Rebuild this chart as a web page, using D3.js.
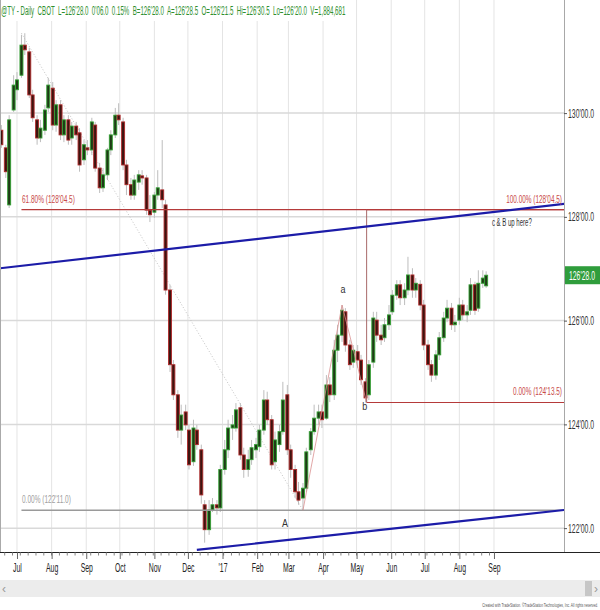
<!DOCTYPE html>
<html><head><meta charset="utf-8">
<script src="https://cdn.jsdelivr.net/npm/d3@7"></script>
<style>body{margin:0;background:#fff}svg{display:block}</style>
</head><body><svg id="c" width="600" height="610"></svg>
<script>
// ---------- DATA ----------
// [date, open, high, low, close]
const candles = [
["2016-06-17",129.67,129.77,129.33,129.39],["2016-06-21",129.33,129.39,128.75,128.87],
["2016-06-24",128.23,129.96,128.17,129.87],["2016-06-28",130.06,130.73,130.02,130.54],
["2016-07-01",130.45,130.79,130.25,130.64],["2016-07-05",130.73,131.51,130.68,131.31],
["2016-07-08",131.31,131.54,131.12,131.22],["2016-07-12",131.18,131.26,130.29,130.35],
["2016-07-15",130.35,130.45,129.83,129.91],["2016-07-19",129.87,129.96,129.39,129.52],
["2016-07-22",129.52,129.87,129.44,129.71],["2016-07-26",129.67,130.16,129.58,130.06],
["2016-07-29",130.10,130.68,130.02,130.54],["2016-08-02",130.48,130.60,129.67,129.77],
["2016-08-05",129.77,130.25,129.64,130.16],["2016-08-09",130.16,130.25,129.48,129.58],
["2016-08-12",129.58,129.96,129.44,129.87],["2016-08-16",129.87,129.96,129.39,129.48],
["2016-08-19",129.52,129.83,129.39,129.75],["2016-08-23",129.75,129.83,129.48,129.58],
["2016-08-26",129.62,129.71,128.87,129.00],["2016-08-30",129.10,129.48,129.00,129.39],
["2016-09-02",129.33,129.48,129.19,129.29],["2016-09-06",129.29,129.91,129.19,129.83],
["2016-09-09",129.77,129.83,128.87,128.94],["2016-09-13",128.94,129.04,128.46,128.56],
["2016-09-16",128.56,128.94,128.48,128.81],["2016-09-20",128.81,129.33,128.71,129.29],
["2016-09-23",129.29,129.67,129.19,129.58],["2016-09-27",129.58,130.10,129.52,129.96],
["2016-09-30",129.96,130.19,129.77,129.87],["2016-10-04",129.83,129.91,128.90,129.00],
["2016-10-07",129.00,129.10,128.42,128.62],["2016-10-11",128.62,128.75,128.33,128.42],
["2016-10-14",128.42,128.81,128.33,128.71],["2016-10-18",128.67,128.90,128.52,128.81],
["2016-10-21",128.79,128.90,128.62,128.75],["2016-10-25",128.75,128.81,128.04,128.13],
["2016-10-28",128.13,128.42,127.90,128.04],["2016-11-01",128.09,128.48,127.98,128.42],
["2016-11-04",128.42,128.90,128.33,128.56],["2016-11-08",128.52,129.48,128.17,128.33],
["2016-11-11",128.23,128.33,126.50,126.59],["2016-11-15",126.59,126.69,125.01,125.15],
["2016-11-18",125.15,125.24,124.47,124.57],["2016-11-22",124.57,124.66,123.74,123.89],
["2016-11-25",123.89,124.38,123.61,124.18],["2016-11-29",124.24,124.38,123.89,123.99],
["2016-12-02",123.89,123.99,123.13,123.22],["2016-12-06",123.28,124.09,123.20,123.93],
["2016-12-09",123.89,123.99,123.51,123.61],["2016-12-13",123.51,123.61,122.47,122.64],
["2016-12-16",122.45,122.54,121.72,121.97],["2016-12-20",121.97,122.54,121.87,122.35],
["2016-12-23",122.35,122.58,122.31,122.45],["2016-12-27",122.45,122.54,122.26,122.39],
["2016-12-30",122.39,123.22,122.31,123.13],["2017-01-03",123.13,123.70,123.03,123.51],
["2017-01-06",123.51,124.09,123.35,123.93],["2017-01-10",123.93,124.18,123.70,123.99],
["2017-01-13",123.93,124.41,123.86,124.28],["2017-01-17",124.32,124.41,123.32,123.41],
["2017-01-20",123.41,123.55,122.97,123.13],["2017-01-24",123.13,123.51,122.99,123.32],
["2017-01-27",123.32,123.70,123.22,123.55],["2017-01-31",123.51,123.74,123.35,123.61],
["2017-02-03",123.57,123.99,123.47,123.89],["2017-02-07",123.89,124.66,123.80,124.47],
["2017-02-10",124.47,124.63,123.99,124.09],["2017-02-14",124.09,124.18,123.13,123.22],
["2017-02-17",123.28,123.86,123.13,123.70],["2017-02-21",123.61,123.99,123.47,123.86],
["2017-02-24",123.86,124.82,123.80,124.47],["2017-02-28",124.57,124.76,123.41,123.51],
["2017-03-03",123.51,123.61,122.97,123.13],["2017-03-07",123.13,123.22,122.58,122.70],
["2017-03-10",122.70,122.89,122.45,122.54],["2017-03-14",122.58,122.87,122.34,122.77],
["2017-03-17",122.77,123.55,122.70,123.47],["2017-03-21",123.51,123.93,123.41,123.86],
["2017-03-24",123.86,124.38,123.80,124.12],["2017-03-28",124.12,124.38,123.99,124.24],
["2017-03-31",124.24,124.38,123.93,124.09],["2017-04-04",124.12,124.95,124.09,124.76],
["2017-04-07",124.76,124.91,124.43,124.57],["2017-04-11",124.57,125.63,124.47,125.43],
["2017-04-14",125.43,125.92,125.20,125.72],["2017-04-18",125.72,126.30,125.59,126.20],
["2017-04-21",126.17,126.24,125.40,125.53],["2017-04-25",125.53,125.63,125.05,125.15],
["2017-04-28",125.20,125.53,125.09,125.43],["2017-05-02",125.40,125.53,125.09,125.24],
["2017-05-05",125.24,125.34,124.76,124.86],["2017-05-09",124.82,124.89,124.42,124.51],
["2017-05-12",124.57,125.24,124.47,125.15],["2017-05-16",125.20,126.17,125.09,126.05],
["2017-05-19",126.01,126.17,125.59,125.72],["2017-05-23",125.72,125.92,125.53,125.63],
["2017-05-26",125.67,126.05,125.59,125.92],["2017-05-30",125.92,126.30,125.82,126.11],
["2017-06-02",126.17,126.59,126.11,126.49],["2017-06-06",126.49,126.78,126.40,126.69],
["2017-06-09",126.69,126.78,126.30,126.44],["2017-06-13",126.44,126.72,126.30,126.59],
["2017-06-16",126.59,127.23,126.49,126.88],["2017-06-20",126.88,127.01,126.44,126.59],
["2017-06-23",126.59,126.82,126.44,126.72],["2017-06-27",126.70,126.78,126.20,126.30],
["2017-06-30",126.30,126.40,125.43,125.53],["2017-07-04",125.53,125.63,125.05,125.15],
["2017-07-07",125.15,125.24,124.82,124.95],["2017-07-11",124.95,125.43,124.86,125.34],
["2017-07-14",125.34,125.78,125.24,125.67],["2017-07-18",125.67,126.17,125.59,126.05],
["2017-07-21",126.05,126.40,125.97,126.24],["2017-07-25",126.24,126.34,125.82,125.92],
["2017-07-28",125.92,126.11,125.78,125.97],["2017-08-01",126.01,126.44,125.92,126.30],
["2017-08-04",126.30,126.40,126.01,126.11],["2017-08-08",126.11,126.30,125.97,126.17],
["2017-08-11",126.20,126.82,126.11,126.69],["2017-08-15",126.69,126.75,126.11,126.20],
["2017-08-18",126.24,126.97,126.17,126.72],["2017-08-22",126.72,126.97,126.63,126.82],
["2017-08-25",126.67,126.95,126.63,126.875]
];
const yTicks = [122,124,126,128,130];
const yTickLabels = ["122'00.0","124'00.0","126'00.0","128'00.0","130'00.0"];
const monthTicks = ["2016-07-01","2016-08-01","2016-09-01","2016-10-01","2016-11-01","2016-12-01","2017-01-01","2017-02-01","2017-03-01","2017-04-01","2017-05-01","2017-06-01","2017-07-01","2017-08-01","2017-09-01"];
const monthLabels = ["Jul","Aug","Sep","Oct","Nov","Dec","'17","Feb","Mar","Apr","May","Jun","Jul","Aug","Sep"];
const headerText = "@TY - Daily  CBOT  L=126'28.0  0'06.0  0.15%  B=126'28.0  A=126'28.5  O=126'21.5  Hi=126'30.5  Lo=126'20.0  V=1,884,681";
const lastPriceLabel = "126'28.0";
// Fibonacci retracement (Jul high -> Mar low)
const retraceAnchors = [["2016-07-05",131.54],["2017-03-14",122.344]];
const retraceLevels = [128.1406, 122.344];
const retraceLabels = ["61.80% (128'04.5)","0.00% (122'11.0)"];
// Fibonacci extension (A -> a -> b)
const waveNames = ["A","a","b"];
const waveDates = ["2017-03-14","2017-04-18","2017-05-10"];
const wavePrices = [122.344,126.30,124.4219];
const extLevels = [128.1406, 124.4219];
const extLabels = ["100.00% (128'04.5)","0.00% (124'13.5)"];
// trend lines
const upperTrend = [["2016-06-16",127.01],["2017-11-03",128.25]];
const lowerTrend = [["2016-12-09",121.58],["2017-11-03",122.35]];
const noteText = "c & B up here?";
const noteAnchor = ["2017-09-17",127.90];
const footerText = "Created with TradeStation. \u00A9TradeStation Technologies, Inc. All rights reserved.";

// ---------- CHART ----------
const FONT = "'Liberation Sans', Arial, sans-serif";
const svg = d3.select("#c");
const parse = d3.utcParse("%Y-%m-%d");
const W = 564, H = 552;
const x = d3.scaleUtc().domain([Date.UTC(2016,5,15,19), Date.UTC(2017,10,3,14)]).range([0,565]);
const y = d3.scaleLinear().domain([121.54,132.18]).range([552,0]);

svg.append("rect").attr("width",600).attr("height",610).attr("fill","#fff");
svg.append("defs").append("clipPath").attr("id","plot").append("rect").attr("width",W).attr("height",H);
const plot = svg.append("g").attr("clip-path","url(#plot)");

// text squeezed horizontally to a target width (via transform, so bboxes stay exact)
function txt(g, s, px, py, o) {
  const t = g.append("text").attr("x",0).attr("y",0).text(s)
    .attr("font-family",FONT).attr("font-size",o.size||11).attr("fill",o.fill||"#333")
    .attr("font-weight",o.weight||"normal")
    .attr("text-anchor",o.anchor||"start").style("white-space","pre");
  let sx = 1;
  if (o.width) sx = o.width / t.node().getComputedTextLength();
  t.attr("transform",`translate(${px},${py}) scale(${sx},1)`);
  return t;
}

// grid
plot.selectAll(".vg").data(monthTicks).join("line")
  .attr("x1",d=>x(parse(d))).attr("x2",d=>x(parse(d))).attr("y1",0).attr("y2",H)
  .attr("stroke","#e4e4e4").attr("stroke-width",1);
plot.selectAll(".hg").data(yTicks).join("line")
  .attr("x1",0).attr("x2",W).attr("y1",d=>y(d)).attr("y2",d=>y(d))
  .attr("stroke","#d9d9d9").attr("stroke-width",1.5);

// retracement diagonal (dotted)
const pt = d => [x(parse(d[0])), y(d[1])];
plot.append("line").attr("x1",pt(retraceAnchors[0])[0]).attr("y1",pt(retraceAnchors[0])[1])
  .attr("x2",pt(retraceAnchors[1])[0]).attr("y2",pt(retraceAnchors[1])[1])
  .attr("stroke","#c4c4c4").attr("stroke-width",1).attr("stroke-dasharray","1,2");

// candles
const cw = 3;
const cg = plot.append("g");
cg.selectAll(".wick").data(candles).join("line")
  .attr("x1",d=>x(parse(d[0]))).attr("x2",d=>x(parse(d[0])))
  .attr("y1",d=>y(d[2])).attr("y2",d=>y(d[3]))
  .attr("stroke","#bdbdbd").attr("stroke-width",1);
cg.selectAll(".body").data(candles).join("rect")
  .attr("x",d=>x(parse(d[0]))-cw/2).attr("width",cw)
  .attr("y",d=>y(Math.max(d[1],d[4])))
  .attr("height",d=>Math.max(1,Math.abs(y(d[1])-y(d[4]))))
  .attr("fill",d=>d[4]>=d[1]?"#1f3a16":"#3d1410")
  .attr("stroke",d=>d[4]>=d[1]?"#33a033":"#b02a2a").attr("stroke-width",0.9);

// retracement levels
const rx0 = x(parse(retraceAnchors[0][0]));
const retColors = ["#b53a3a","#9a9a9a"];
retraceLevels.forEach((lv,i)=>{
  plot.append("line").attr("x1",rx0).attr("x2",W).attr("y1",y(lv)).attr("y2",y(lv))
    .attr("stroke",retColors[i]).attr("stroke-width",i===0?1.2:1.6);
  txt(svg, retraceLabels[i], rx0+0.5, y(lv)-7, {size:11.5, fill:i===0?"#c84848":"#a0a0a0", width:i===0?53:49});
});

// extension: zigzag, vertical, levels
const wp = waveDates.map((d,i)=>[x(parse(d)), y(wavePrices[i])]);
plot.append("path").attr("d",d3.line()(wp)).attr("fill","none").attr("stroke","#d99090").attr("stroke-width",0.8);
const ex0 = wp[2][0];
plot.append("line").attr("x1",ex0).attr("x2",ex0).attr("y1",y(extLevels[0])).attr("y2",y(extLevels[1]))
  .attr("stroke","#a86a6a").attr("stroke-width",1);
extLevels.forEach((lv,i)=>{
  plot.append("line").attr("x1",ex0).attr("x2",W).attr("y1",y(lv)).attr("y2",y(lv))
    .attr("stroke","#b53a3a").attr("stroke-width",1.2);
  txt(svg, extLabels[i], 562, y(lv)-7, {size:11.5, fill:"#c84848", anchor:"end", width:i===0?56:49});
});
const wOff = [[-18,17],[1,-12],[-2,8]];
waveNames.forEach((n,i)=>{
  txt(svg, n, wp[i][0]+wOff[i][0], wp[i][1]+wOff[i][1], {size:11, fill:"#333", anchor:"middle", width:n==="A"?6:5});
});

// blue trendlines
[upperTrend, lowerTrend].forEach(t=>{
  plot.append("line").attr("x1",pt(t[0])[0]).attr("y1",pt(t[0])[1]).attr("x2",pt(t[1])[0]).attr("y2",pt(t[1])[1])
    .attr("stroke","#1c1ca8").attr("stroke-width",2.2);
});

// note
txt(svg, noteText, x(parse(noteAnchor[0])), y(noteAnchor[1])+4, {size:11.5, fill:"#333", anchor:"middle", width:40});

// borders
svg.append("line").attr("x1",0.5).attr("x2",0.5).attr("y1",0).attr("y2",H).attr("stroke","#aaa");
svg.append("line").attr("x1",W+0.5).attr("x2",W+0.5).attr("y1",0).attr("y2",H).attr("stroke","#a8a8a8");

// x axis
const xa = svg.append("g").attr("transform",`translate(0,${H})`);
xa.append("line").attr("x1",0).attr("x2",600).attr("y1",0.5).attr("y2",0.5).attr("stroke","#222").attr("stroke-width",1.2);
const weeks = d3.utcMonday.range(Date.UTC(2016,5,20), Date.UTC(2017,8,2));
xa.selectAll(".mt").data(weeks).join("line")
  .attr("x1",d=>x(d)).attr("x2",d=>x(d)).attr("y1",0).attr("y2",3.5).attr("stroke","#666").attr("stroke-width",0.8);
const xAxis = d3.axisBottom(x).tickValues(monthTicks.map(parse)).tickSize(7).tickFormat((d,i)=>monthLabels[i]);
const xg = svg.append("g").attr("transform",`translate(0,${H})`).call(xAxis);
xg.select(".domain").remove();
xg.selectAll(".tick line").attr("stroke","#555").attr("stroke-width",0.9);
xg.selectAll(".tick text").attr("font-family",FONT).attr("font-size",12.5).attr("fill","#222")
  .attr("y",11).attr("transform","scale(0.55,1)");

// y axis
const yAxis = d3.axisRight(y).tickValues(yTicks).tickSize(3).tickFormat((d,i)=>yTickLabels[i]);
const yg = svg.append("g").attr("transform",`translate(${W},0)`).call(yAxis);
yg.select(".domain").remove();
yg.selectAll(".tick line").attr("stroke","#555");
yg.selectAll(".tick text").attr("font-family",FONT).attr("font-size",12.5).attr("fill","#333")
  .attr("x",4/0.55).attr("transform","scale(0.55,1)");

// last price box
const lastY = y(candles[candles.length-1][4]);
svg.append("rect").attr("x",565).attr("y",lastY-9).attr("width",35).attr("height",18).attr("fill","#2f9d3c");
txt(svg, lastPriceLabel, 582, lastY+4.5, {size:12.5, fill:"#fff", anchor:"middle", width:26});

// header
svg.append("rect").attr("x",1).attr("y",0).attr("width",348).attr("height",21).attr("fill","#fff");
txt(svg, headerText, 1, 15, {size:13, fill:"#2f8f2f", width:345});

// scrollbar
svg.append("rect").attr("x",0).attr("y",580).attr("width",600).attr("height",17).attr("fill","#ececec");
svg.append("rect").attr("x",585).attr("y",581).attr("width",7).attr("height",15).attr("fill","#c6c6c6");
txt(svg, "\u2039", 2, 593, {size:12, fill:"#999"});
txt(svg, "\u203A", 594, 593, {size:12, fill:"#999"});

// footer
txt(svg, footerText, 598, 607, {size:6, fill:"#555", anchor:"end", width:116});
</script>
</body></html>
